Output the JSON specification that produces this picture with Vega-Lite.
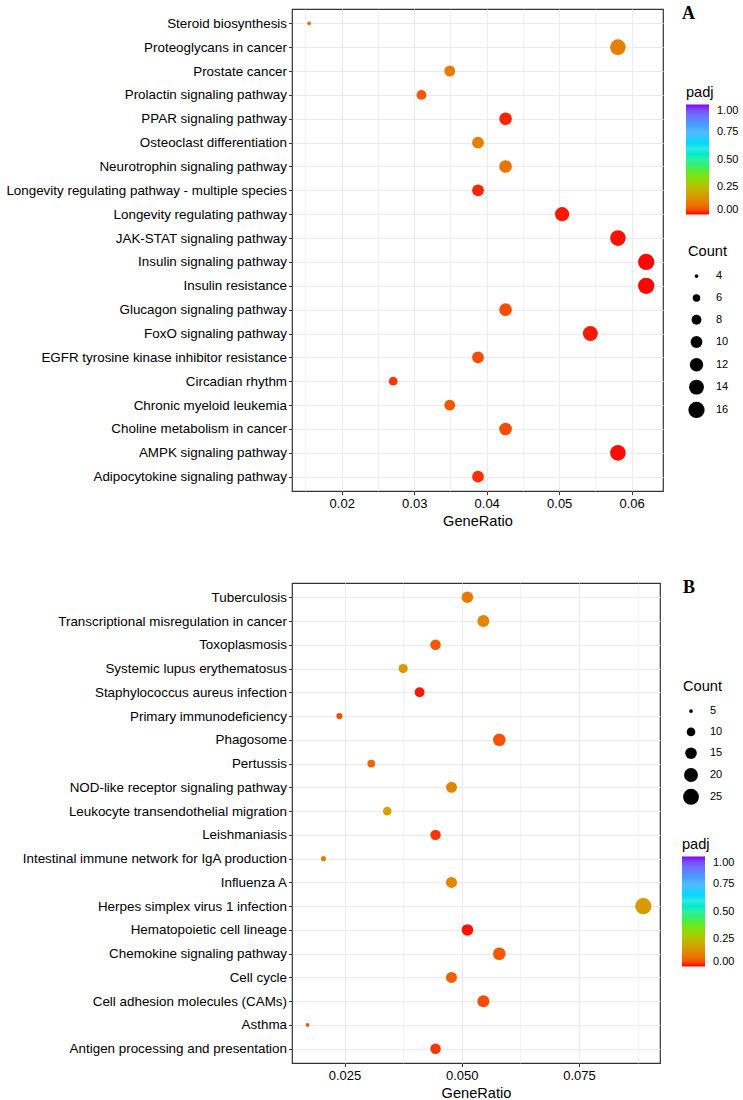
{
  "$schema": "https://vega.github.io/schema/vega-lite/v6.json",
  "padding": {"left": 5, "top": 4, "right": 0, "bottom": 0},
  "background": "white",
  "spacing": 49,
  "config": {
    "font": "Liberation Sans",
    "view": {"stroke": "#333333", "strokeWidth": 1.2},
    "axis": {
      "labelFont": "Liberation Sans",
      "labelColor": "#000000",
      "titleFont": "Liberation Sans",
      "titleColor": "#000000",
      "titleFontWeight": "normal",
      "domain": false,
      "tickColor": "#333333",
      "tickSize": 3.5,
      "gridColor": "#EBEBEB",
      "labelOverlap": false,
      "labelLimit": 0
    },
    "legend": {
      "titleFont": "Liberation Sans",
      "titleFontSize": 14.6,
      "titleFontWeight": "normal",
      "titleColor": "#000000",
      "labelFont": "Liberation Sans",
      "labelFontSize": 11,
      "labelColor": "#000000",
      "gradientThickness": 23,
      "gradientLength": 110,
      "gradientStrokeWidth": 0,
      "symbolFillColor": "#000000",
      "symbolStrokeWidth": 0,
      "symbolOpacity": 1,
      "symbolType": "circle",
      "padding": 0,
      "titlePadding": 5,
      "gridAlign": "all",
      "rowPadding": 3.8
    }
  },
  "datasets": {
    "A": [
      {"Description": "Steroid biosynthesis", "GeneRatio": 0.0155, "Count": 4, "padj": 0.08},
      {"Description": "Proteoglycans in cancer", "GeneRatio": 0.0581, "Count": 15, "padj": 0.11},
      {"Description": "Prostate cancer", "GeneRatio": 0.0349, "Count": 9, "padj": 0.1},
      {"Description": "Prolactin signaling pathway", "GeneRatio": 0.031, "Count": 8, "padj": 0.05},
      {"Description": "PPAR signaling pathway", "GeneRatio": 0.0426, "Count": 11, "padj": 0.01},
      {"Description": "Osteoclast differentiation", "GeneRatio": 0.0388, "Count": 10, "padj": 0.11},
      {"Description": "Neurotrophin signaling pathway", "GeneRatio": 0.0426, "Count": 11, "padj": 0.09},
      {"Description": "Longevity regulating pathway - multiple species", "GeneRatio": 0.0388, "Count": 10, "padj": 0.01},
      {"Description": "Longevity regulating pathway", "GeneRatio": 0.0504, "Count": 13, "padj": 0.005},
      {"Description": "JAK-STAT signaling pathway", "GeneRatio": 0.0581, "Count": 15, "padj": 0.003},
      {"Description": "Insulin signaling pathway", "GeneRatio": 0.062, "Count": 16, "padj": 0.001},
      {"Description": "Insulin resistance", "GeneRatio": 0.062, "Count": 16, "padj": 0.001},
      {"Description": "Glucagon signaling pathway", "GeneRatio": 0.0426, "Count": 11, "padj": 0.04},
      {"Description": "FoxO signaling pathway", "GeneRatio": 0.0543, "Count": 14, "padj": 0.005},
      {"Description": "EGFR tyrosine kinase inhibitor resistance", "GeneRatio": 0.0388, "Count": 10, "padj": 0.04},
      {"Description": "Circadian rhythm", "GeneRatio": 0.0271, "Count": 7, "padj": 0.02},
      {"Description": "Chronic myeloid leukemia", "GeneRatio": 0.0349, "Count": 9, "padj": 0.05},
      {"Description": "Choline metabolism in cancer", "GeneRatio": 0.0426, "Count": 11, "padj": 0.04},
      {"Description": "AMPK signaling pathway", "GeneRatio": 0.0581, "Count": 15, "padj": 0.002},
      {"Description": "Adipocytokine signaling pathway", "GeneRatio": 0.0388, "Count": 10, "padj": 0.015}
    ],
    "B": [
      {"Description": "Tuberculosis", "GeneRatio": 0.0512, "Count": 15, "padj": 0.1},
      {"Description": "Transcriptional misregulation in cancer", "GeneRatio": 0.0546, "Count": 16, "padj": 0.12},
      {"Description": "Toxoplasmosis", "GeneRatio": 0.0444, "Count": 13, "padj": 0.05},
      {"Description": "Systemic lupus erythematosus", "GeneRatio": 0.0375, "Count": 11, "padj": 0.17},
      {"Description": "Staphylococcus aureus infection", "GeneRatio": 0.041, "Count": 12, "padj": 0.005},
      {"Description": "Primary immunodeficiency", "GeneRatio": 0.0239, "Count": 7, "padj": 0.04},
      {"Description": "Phagosome", "GeneRatio": 0.058, "Count": 17, "padj": 0.045},
      {"Description": "Pertussis", "GeneRatio": 0.0307, "Count": 9, "padj": 0.07},
      {"Description": "NOD-like receptor signaling pathway", "GeneRatio": 0.0478, "Count": 14, "padj": 0.12},
      {"Description": "Leukocyte transendothelial migration", "GeneRatio": 0.0341, "Count": 10, "padj": 0.18},
      {"Description": "Leishmaniasis", "GeneRatio": 0.0444, "Count": 13, "padj": 0.02},
      {"Description": "Intestinal immune network for IgA production", "GeneRatio": 0.0205, "Count": 6, "padj": 0.1},
      {"Description": "Influenza A", "GeneRatio": 0.0478, "Count": 14, "padj": 0.12},
      {"Description": "Herpes simplex virus 1 infection", "GeneRatio": 0.0887, "Count": 26, "padj": 0.17},
      {"Description": "Hematopoietic cell lineage", "GeneRatio": 0.0512, "Count": 15, "padj": 0.003},
      {"Description": "Chemokine signaling pathway", "GeneRatio": 0.058, "Count": 17, "padj": 0.05},
      {"Description": "Cell cycle", "GeneRatio": 0.0478, "Count": 14, "padj": 0.06},
      {"Description": "Cell adhesion molecules (CAMs)", "GeneRatio": 0.0546, "Count": 16, "padj": 0.04},
      {"Description": "Asthma", "GeneRatio": 0.0171, "Count": 5, "padj": 0.05},
      {"Description": "Antigen processing and presentation", "GeneRatio": 0.0444, "Count": 13, "padj": 0.02}
    ]
  },
  "resolve": {
    "scale": {"x": "independent", "y": "independent", "color": "independent", "size": "independent"},
    "legend": {"color": "independent", "size": "independent"}
  },
  "vconcat": [
    {
      "width": 371,
      "height": 482,
      "title": {"text": "A", "orient": "top", "anchor": "end", "frame": "group", "align": "left", "dx": 19, "offset": -14, "baseline": "top", "font": "Liberation Serif", "fontWeight": "bold", "fontSize": 18, "color": "#000000"},
      "data": {"name": "A"},
      "mark": {"type": "circle", "opacity": 1},
      "encoding": {
        "x": {
          "field": "GeneRatio", "type": "quantitative",
          "scale": {"domain": [0.01314, 0.06432], "nice": false, "zero": false},
          "axis": {
            "title": "GeneRatio", "titleFontSize": 14.6, "titlePadding": 3,
            "labelFontSize": 13, "labelPadding": 3,
            "values": [0.015, 0.02, 0.025, 0.03, 0.035, 0.04, 0.045, 0.05, 0.055, 0.06],
            "labelExpr": "abs(datum.value*100 - round(datum.value*100)) > 0.1 ? '' : format(datum.value, '.2f')",
            "gridWidth": {"condition": {"test": "abs(datum.value*100 - round(datum.value*100)) > 0.1", "value": 0.6}, "value": 1.1},
            "tickOpacity": {"condition": {"test": "abs(datum.value*100 - round(datum.value*100)) > 0.1", "value": 0}, "value": 1}
          }
        },
        "y": {
          "field": "Description", "type": "nominal",
          "sort": ["Steroid biosynthesis", "Proteoglycans in cancer", "Prostate cancer", "Prolactin signaling pathway", "PPAR signaling pathway", "Osteoclast differentiation", "Neurotrophin signaling pathway", "Longevity regulating pathway - multiple species", "Longevity regulating pathway", "JAK-STAT signaling pathway", "Insulin signaling pathway", "Insulin resistance", "Glucagon signaling pathway", "FoxO signaling pathway", "EGFR tyrosine kinase inhibitor resistance", "Circadian rhythm", "Chronic myeloid leukemia", "Choline metabolism in cancer", "AMPK signaling pathway", "Adipocytokine signaling pathway"],
          "scale": {"type": "point", "padding": 0.6},
          "axis": {"title": null, "labelFontSize": 13.4, "labelPadding": 2, "grid": true, "gridWidth": 1.1}
        },
        "color": {
          "field": "padj", "type": "quantitative",
          "scale": {"domain": [0, 0.1, 0.2, 0.3, 0.4, 0.5, 0.6, 0.75, 0.9, 1], "range": ["#FF0000", "#E87A00", "#CFA800", "#9CD400", "#55EC30", "#2EF0A0", "#2EE8E8", "#55B8FF", "#7070FF", "#8800FF"]},
          "legend": {"title": "padj", "orient": "none", "legendX": 394, "legendY": 76, "values": [0, 0.25, 0.5, 0.75, 1], "format": ".2f", "labelOffset": 8, "direction": "vertical"}
        },
        "size": {
          "field": "Count", "type": "quantitative",
          "scale": {"domain": [4, 16], "range": [14, 265], "zero": false},
          "legend": {"title": "Count", "orient": "none", "legendX": 396, "legendY": 235, "titlePadding": 12, "values": [4, 6, 8, 10, 12, 14, 16], "labelOffset": 11}
        }
      }
    },
    {
      "width": 368,
      "height": 480,
      "title": {"text": "B", "orient": "top", "anchor": "end", "frame": "group", "align": "left", "dx": 23, "offset": -14, "baseline": "top", "font": "Liberation Serif", "fontWeight": "bold", "fontSize": 18, "color": "#000000"},
      "data": {"name": "B"},
      "mark": {"type": "circle", "opacity": 1},
      "encoding": {
        "x": {
          "field": "GeneRatio", "type": "quantitative",
          "scale": {"domain": [0.0138, 0.09226], "nice": false, "zero": false},
          "axis": {
            "title": "GeneRatio", "titleFontSize": 14.6, "titlePadding": 3,
            "labelFontSize": 13, "labelPadding": 3,
            "values": [0.025, 0.0375, 0.05, 0.0625, 0.075, 0.0875],
            "labelExpr": "abs(datum.value*40 - round(datum.value*40)) > 0.1 ? '' : format(datum.value, '.3f')",
            "gridWidth": {"condition": {"test": "abs(datum.value*40 - round(datum.value*40)) > 0.1", "value": 0.6}, "value": 1.1},
            "tickOpacity": {"condition": {"test": "abs(datum.value*40 - round(datum.value*40)) > 0.1", "value": 0}, "value": 1}
          }
        },
        "y": {
          "field": "Description", "type": "nominal",
          "sort": ["Tuberculosis", "Transcriptional misregulation in cancer", "Toxoplasmosis", "Systemic lupus erythematosus", "Staphylococcus aureus infection", "Primary immunodeficiency", "Phagosome", "Pertussis", "NOD-like receptor signaling pathway", "Leukocyte transendothelial migration", "Leishmaniasis", "Intestinal immune network for IgA production", "Influenza A", "Herpes simplex virus 1 infection", "Hematopoietic cell lineage", "Chemokine signaling pathway", "Cell cycle", "Cell adhesion molecules (CAMs)", "Asthma", "Antigen processing and presentation"],
          "scale": {"type": "point", "padding": 0.6},
          "axis": {"title": null, "labelFontSize": 13.4, "labelPadding": 2, "grid": true, "gridWidth": 1.1}
        },
        "color": {
          "field": "padj", "type": "quantitative",
          "scale": {"domain": [0, 0.1, 0.2, 0.3, 0.4, 0.5, 0.6, 0.75, 0.9, 1], "range": ["#FF0000", "#E87A00", "#CFA800", "#9CD400", "#55EC30", "#2EF0A0", "#2EE8E8", "#55B8FF", "#7070FF", "#8800FF"]},
          "legend": {"title": "padj", "orient": "none", "legendX": 390, "legendY": 254, "values": [0, 0.25, 0.5, 0.75, 1], "format": ".2f", "labelOffset": 8, "direction": "vertical"}
        },
        "size": {
          "field": "Count", "type": "quantitative",
          "scale": {"domain": [5, 26], "range": [14, 265], "zero": false},
          "legend": {"title": "Count", "orient": "none", "legendX": 391, "legendY": 96, "titlePadding": 12, "values": [5, 10, 15, 20, 25], "labelOffset": 11}
        }
      }
    }
  ]
}
